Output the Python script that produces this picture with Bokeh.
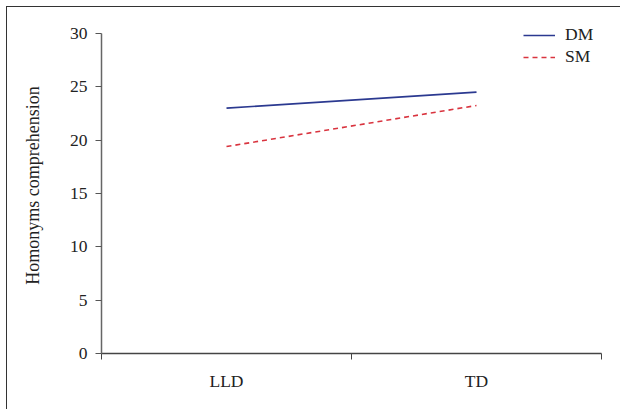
from bokeh.plotting import figure
from bokeh.models import Range1d, FixedTicker, Legend, LegendItem
from bokeh.embed import file_html
from bokeh.resources import INLINE

categories = ["LLD", "TD"]
dm_values = [23.0, 24.5]
sm_values = [19.4, 23.25]
y_ticks = [0, 5, 10, 15, 20, 25, 30]

FONT = "Liberation Serif"

xs = [i + 0.5 for i in range(len(categories))]

p = figure(width=614, height=403, output_backend="svg", toolbar_location=None,
           x_range=Range1d(0, len(categories)), y_range=Range1d(0, 31.5))
p.min_border_left = 94
p.min_border_right = 20
p.min_border_top = 10
p.min_border_bottom = 57
p.outline_line_color = None
p.grid.visible = False
p.background_fill_color = "white"
p.border_fill_color = "white"
p.styles = {"border-left": "1.5px solid #333", "border-top": "1.5px solid #333",
            "margin-left": "6px", "margin-top": "6px"}

r1 = p.line(xs, dm_values, line_color="#2b3990", line_width=1.6)
r2 = p.line(xs, sm_values, line_color="#d9343f", line_width=1.6, line_dash="5 4")

# x axis
xa = p.xaxis[0]
xa.bounds = (0, len(categories))
xa.ticker = FixedTicker(ticks=xs, minor_ticks=list(range(len(categories) + 1)))
xa.major_label_overrides = {x: c for x, c in zip(xs, categories)}
xa.major_tick_out = 0
xa.major_tick_in = 0
xa.minor_tick_out = 6
xa.minor_tick_in = 0
xa.minor_tick_line_color = "#444"
xa.axis_line_color = "#444"
xa.axis_line_width = 1.5
xa.major_label_text_font = FONT
xa.major_label_text_font_size = "17.5px"
xa.major_label_text_color = "#222"
xa.major_label_standoff = 11

# y axis
ya = p.yaxis[0]
ya.bounds = (0, 30)
ya.ticker = FixedTicker(ticks=y_ticks, minor_ticks=[])
ya.major_tick_out = 6
ya.major_tick_in = 0
ya.major_tick_line_color = "#555"
ya.axis_line_color = "#666"
ya.axis_line_width = 1.5
ya.major_label_text_font = FONT
ya.major_label_text_font_size = "17.5px"
ya.major_label_text_color = "#222"
ya.major_label_standoff = 8
ya.axis_label = "Homonyms comprehension"
ya.axis_label_text_font = FONT
ya.axis_label_text_font_size = "18px"
ya.axis_label_text_font_style = "normal"
ya.axis_label_text_color = "#222"
ya.axis_label_standoff = 24

legend = Legend(items=[LegendItem(label="DM", renderers=[r1]),
                       LegendItem(label="SM", renderers=[r2])],
                location=(422, 286))
legend.border_line_color = None
legend.background_fill_alpha = 0
legend.padding = 0
legend.margin = 0
legend.spacing = 1
legend.glyph_width = 32
legend.glyph_height = 18
legend.label_height = 18
legend.label_standoff = 10
legend.label_text_font = FONT
legend.label_text_font_size = "17.5px"
legend.label_text_color = "#222"
p.add_layout(legend, "center")

open("out.html", "w").write(file_html(p, INLINE))
